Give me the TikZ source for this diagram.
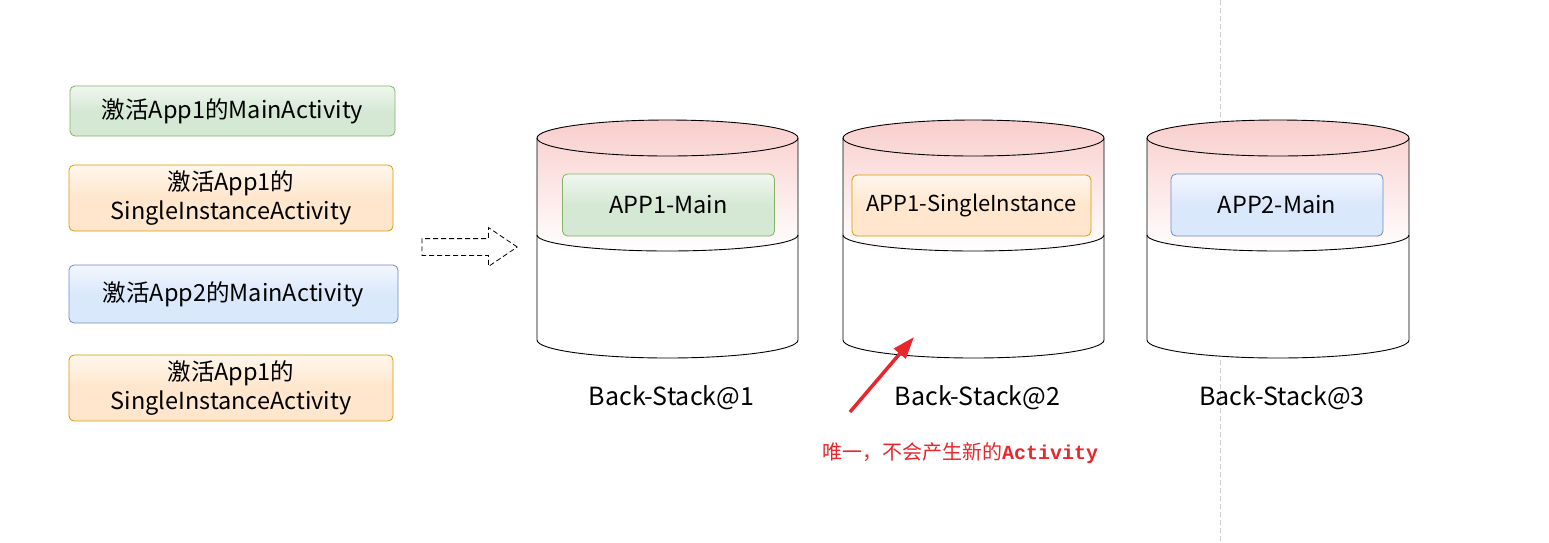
\documentclass[tikz,border=0pt]{standalone}
\usepackage{fontspec}
\setmainfont{Noto Sans CJK SC}
\newfontfamily\codefont{Liberation Mono}
\usetikzlibrary{arrows.meta, positioning, shapes.arrows}

\definecolor{mainfill}{HTML}{D5E8D4}
\definecolor{mainline}{HTML}{82B366}
\definecolor{singlefill}{HTML}{FFE6CC}
\definecolor{singleline}{HTML}{D79B00}
\definecolor{otherfill}{HTML}{DAE8FC}
\definecolor{otherline}{HTML}{6C8EBF}
\definecolor{stackpink}{HTML}{F8CECC}
\definecolor{notered}{HTML}{E8262B}

\begin{document}
\begin{tikzpicture}[
    x=1pt, y=1pt,
    box/.style={
        rectangle, rounded corners=5pt, draw, line width=0.8pt,
        align=center, inner sep=0pt,
        font=\fontsize{23.5}{29}\selectfont
    },
    mainbox/.style={box, draw=mainline,
        top color=mainfill!35, bottom color=mainfill, middle color=mainfill},
    singlebox/.style={box, draw=singleline,
        top color=singlefill!35, bottom color=singlefill, middle color=singlefill},
    otherbox/.style={box, draw=otherline,
        top color=otherfill!35, bottom color=otherfill, middle color=otherfill},
    stackline/.style={draw=black, line width=0.9pt},
    stacklabel/.style={font=\fontsize{25}{30}\selectfont},
    movearrow/.style={
        single arrow, draw, dash pattern=on 5pt off 3pt, line width=0.8pt,
        inner xsep=41pt, inner ysep=8pt, single arrow head extend=11pt,
        single arrow tip angle=68
    },
    notearrow/.style={-{Triangle[length=22pt, width=15pt]}, draw=notered,
        line width=3.5pt},
]

    \useasboundingbox (0,0) rectangle (1549,-542);

    % Trennlinie
    \coordinate (divtop) at (1220,0);
    \coordinate (divbot) at (1220,-542);
    \draw[gray!40, line width=0.9pt, dash pattern=on 5pt off 3pt] (divtop) -- (divbot);

    % Aktionen links
    \node[mainbox, minimum width=325pt, minimum height=50pt]
        (act1) at (232.5,-111) {激活App1的MainActivity};
    \node[singlebox, minimum width=324pt, minimum height=66pt]
        (act2) at (231,-198) {激活App1的\\SingleInstanceActivity};
    \node[otherbox, minimum width=329pt, minimum height=58pt]
        (act3) at (233.5,-294) {激活App2的MainActivity};
    \node[singlebox, minimum width=324pt, minimum height=66pt]
        (act4) at (231,-388) {激活App1的\\SingleInstanceActivity};

    \node[movearrow, anchor=tip] (move) at (518,-247) {};

    % Back-Stacks
    \foreach \l/\r/\k in {537/798/1, 843/1104/2, 1147/1409/3} {
        \pgfmathsetmacro\rx{(\r-\l)/2}
        \fill[white] (\l,-138) -- (\l,-340)
            arc[start angle=180, end angle=360, x radius=\rx, y radius=18]
            -- (\r,-138) -- cycle;
        \shade[top color=stackpink, bottom color=white] (\l,-138) -- (\l,-235)
            arc[start angle=180, end angle=360, x radius=\rx, y radius=16]
            -- (\r,-138)
            arc[start angle=0, end angle=180, x radius=\rx, y radius=18] -- cycle;
        \draw[stackline] (\l,-138)
            arc[start angle=180, end angle=-180, x radius=\rx, y radius=18];
        \draw[stackline] (\l,-235)
            arc[start angle=180, end angle=360, x radius=\rx, y radius=16];
        \draw[stackline] (\l,-138) -- (\l,-340)
            arc[start angle=180, end angle=360, x radius=\rx, y radius=18]
            -- (\r,-138);
        \node[stacklabel] (stack\k) at ({(\l+\r)/2+4},-398) {Back-Stack@\k};
    }

    \node[mainbox, minimum width=212pt, minimum height=62pt]
        (app1main) at (668.5,-205) {APP1-Main};
    \node[singlebox, minimum width=239pt, minimum height=61pt,
        font=\fontsize{22}{26}\selectfont]
        (app1single) at (971.5,-205.5) {APP1-SingleInstance};
    \node[otherbox, minimum width=212pt, minimum height=62pt]
        (app2main) at (1277,-205) {APP2-Main};

    % Hinweis
    \node[text=notered, font=\fontsize{20}{24}\selectfont]
        (note) at (960,-453) {唯一，不会产生新的{\codefont\bfseries Activity}};
    \coordinate (notetail) at (850,-412);
    \coordinate (notetip) at (914,-337);
    \draw[notearrow] (notetail) -- (notetip);

\end{tikzpicture}
\end{document}
